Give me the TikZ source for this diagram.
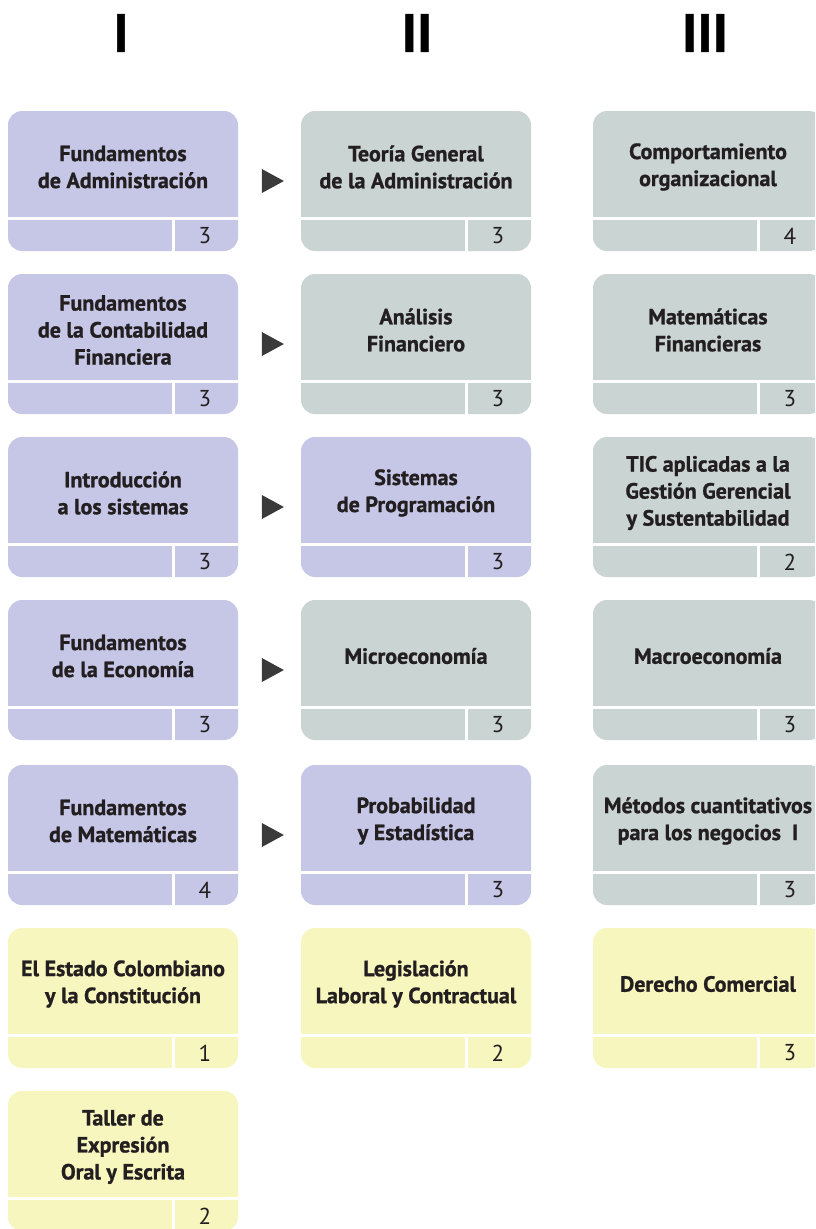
\documentclass[tikz,border=0pt]{standalone}
\usepackage{fontspec}
\setmainfont{PT Sans}[BoldFeatures={FakeBold=1}]
\usetikzlibrary{shapes.geometric}

\definecolor{lila}{HTML}{C6C7E7}
\definecolor{gris}{HTML}{CAD4D2}
\definecolor{crema}{HTML}{F7F6BE}
\definecolor{texto}{HTML}{231F20}
\definecolor{flecha}{HTML}{3A3A3A}

\tikzset{
    titulo/.style={align=center, text=texto, inner sep=0pt, font=\bfseries\fontsize{22}{27}\selectfont},
    creditos/.style={text=texto, inner sep=0pt, font=\fontsize{23}{24}\selectfont},
    divisor/.style={white, line width=3pt},
    semestre/.style={inner sep=0pt, font=\bfseries\fontsize{54}{54}\selectfont},
    paso/.style={isosceles triangle, isosceles triangle stretches, fill=flecha, inner sep=0pt, minimum width=24pt, minimum height=22pt}
}

% nombre, x, y, color, asignatura, creditos
\newcommand{\asignatura}[6]{%
    \fill[#4, rounded corners=14pt] (#2,#3) rectangle ++(230,140);
    \draw[divisor] (#2,#3+107) -- ++(230,0);
    \draw[divisor] (#2+165,#3+107) -- ++(0,33);
    \node[titulo] (#1) at (#2+115,#3+56) {#5};
    \node[creditos] (#1-cr) at (#2+197,#3+125) {#6};
}

\begin{document}
\begin{tikzpicture}[x=1pt, y=-1pt]
    \useasboundingbox (0,0) rectangle (815,1229);
    \clip (0,0) rectangle (815,1229);

    \node[semestre] (semI) at (121,33) {I};
    \node[semestre] (semII) at (417,33) {II};
    \node[semestre] (semIII) at (705,33) {III};

    % semestre I
    \asignatura{adm}{8}{111}{lila}{Fundamentos\\de Administración}{3}
    \asignatura{cont}{8}{274}{lila}{Fundamentos\\de la Contabilidad\\Financiera}{3}
    \asignatura{intro}{8}{437}{lila}{Introducción\\a los sistemas}{3}
    \asignatura{eco}{8}{600}{lila}{Fundamentos\\de la Economía}{3}
    \asignatura{mat}{8}{765}{lila}{Fundamentos\\de Matemáticas}{4}
    \asignatura{estado}{8}{928}{crema}{El Estado Colombiano\\y la Constitución}{1}
    \asignatura{taller}{8}{1091}{crema}{Taller de\\Expresión\\Oral y Escrita}{2}

    % semestre II
    \asignatura{teoria}{301}{111}{gris}{Teoría General\\de la Administración}{3}
    \asignatura{analisis}{301}{274}{gris}{Análisis\\Financiero}{3}
    \asignatura{prog}{301}{437}{lila}{Sistemas\\de Programación}{3}
    \asignatura{micro}{301}{600}{gris}{Microeconomía}{3}
    \asignatura{prob}{301}{765}{lila}{Probabilidad\\y Estadística}{3}
    \asignatura{legis}{301}{928}{crema}{Legislación\\Laboral y Contractual}{2}

    % semestre III
    \asignatura{comp}{593}{111}{gris}{Comportamiento\\organizacional}{4}
    \asignatura{matfin}{593}{274}{gris}{Matemáticas\\Financieras}{3}
    \asignatura{tic}{593}{437}{gris}{TIC aplicadas a la\\Gestión Gerencial\\y Sustentabilidad}{2}
    \asignatura{macro}{593}{600}{gris}{Macroeconomía}{3}
    \asignatura{metodos}{593}{765}{gris}{Métodos cuantitativos\\para los negocios~~I}{3}
    \asignatura{derecho}{593}{928}{crema}{Derecho Comercial}{3}

    % prerrequisitos
    \node[paso] (p1) at (269,181) {};
    \node[paso] (p2) at (269,344) {};
    \node[paso] (p3) at (269,507) {};
    \node[paso] (p4) at (269,670) {};
    \node[paso] (p5) at (269,835) {};
\end{tikzpicture}
\end{document}
